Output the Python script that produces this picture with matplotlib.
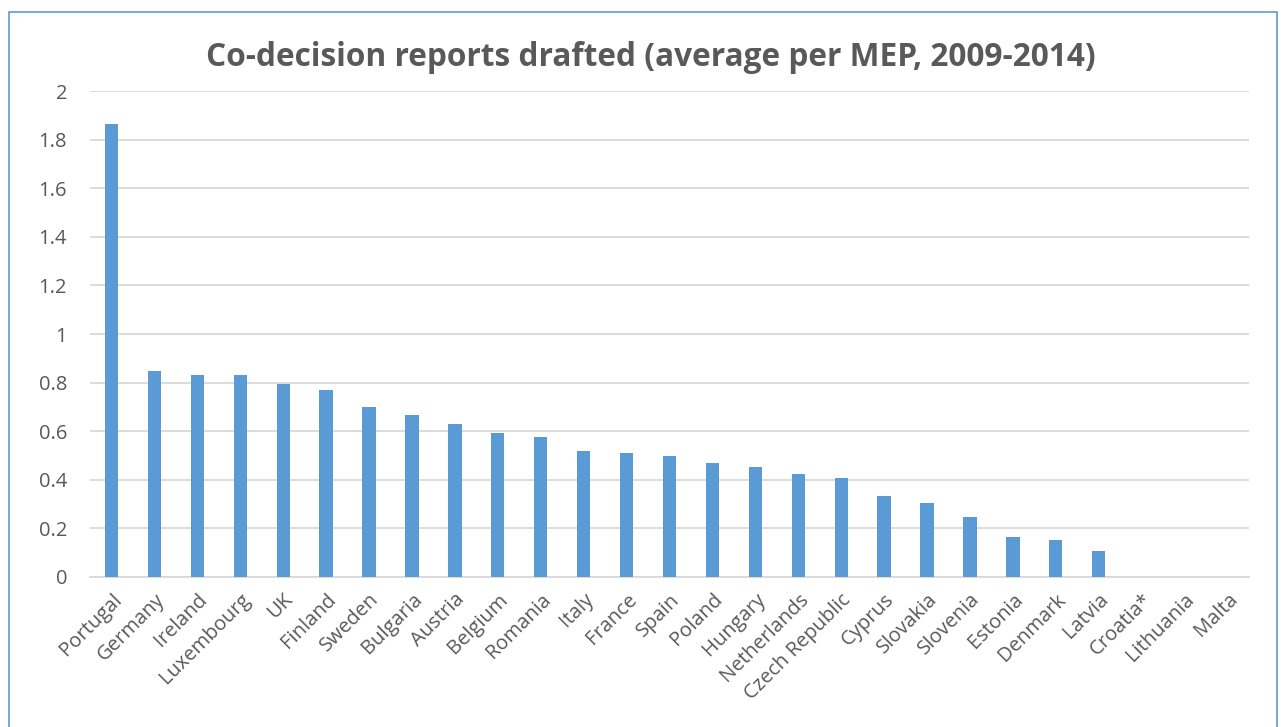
import matplotlib.pyplot as plt
import numpy as np
from matplotlib.patches import Rectangle

countries = ["Portugal", "Germany", "Ireland", "Luxembourg", "UK", "Finland",
             "Sweden", "Bulgaria", "Austria", "Belgium", "Romania", "Italy",
             "France", "Spain", "Poland", "Hungary", "Netherlands",
             "Czech Republic", "Cyprus", "Slovakia", "Slovenia", "Estonia",
             "Denmark", "Latvia", "Croatia*", "Lithuania", "Malta"]
reports = [1.864, 0.848, 0.832, 0.832, 0.794, 0.770, 0.700, 0.667, 0.630,
           0.593, 0.576, 0.519, 0.510, 0.498, 0.469, 0.453, 0.424, 0.407,
           0.333, 0.305, 0.247, 0.165, 0.152, 0.107, 0.0, 0.0, 0.0]
yticks = [0, 0.2, 0.4, 0.6, 0.8, 1, 1.2, 1.4, 1.6, 1.8, 2]
ytick_labels = ["0", "0.2", "0.4", "0.6", "0.8", "1", "1.2", "1.4", "1.6", "1.8", "2"]

plt.rcParams["font.family"] = "Open Sans"
text_col = "#595959"

W, H = 1282, 727
fig = plt.figure(figsize=(W / 100, H / 100), dpi=100)
ax = fig.add_axes([90 / W, 1 - 577 / H, (1249 - 90) / W, (577 - 91) / H])

x = np.arange(len(countries))
ax.bar(x, reports, width=0.31, color="#5B9BD5", zorder=3)

ax.set_xlim(-0.5, len(countries) - 0.5)
ax.set_ylim(0, 2)
ax.set_yticks(yticks)
ax.set_yticklabels(ytick_labels, fontsize=14.5, color=text_col)
ax.set_xticks(x)
ax.set_xticklabels(countries, rotation=45, ha="right", rotation_mode="anchor",
                   fontsize=14.5, color=text_col)
ax.tick_params(axis="both", length=0)
ax.tick_params(axis="y", pad=16.5)
ax.tick_params(axis="x", pad=9)
ax.grid(axis="y", color="#D9D9D9", linewidth=1.3, zorder=0)
for s in ["top", "right", "left"]:
    ax.spines[s].set_visible(False)
ax.spines["bottom"].set_color("#D9D9D9")
ax.spines["bottom"].set_linewidth(1.3)

fig.text(651 / W, 1 - 57 / H, "Co-decision reports drafted (average per MEP, 2009-2014)",
         ha="center", va="center", fontsize=22.8, fontweight="bold", color=text_col)

# chart frame
fig.patches.append(Rectangle((9 / W, -0.05), (1277 - 9) / W, 1 - 12 / H + 0.05,
                             transform=fig.transFigure, fill=False,
                             edgecolor="#5B9BD5", linewidth=1.2))

fig.savefig("out.png", dpi=100)
